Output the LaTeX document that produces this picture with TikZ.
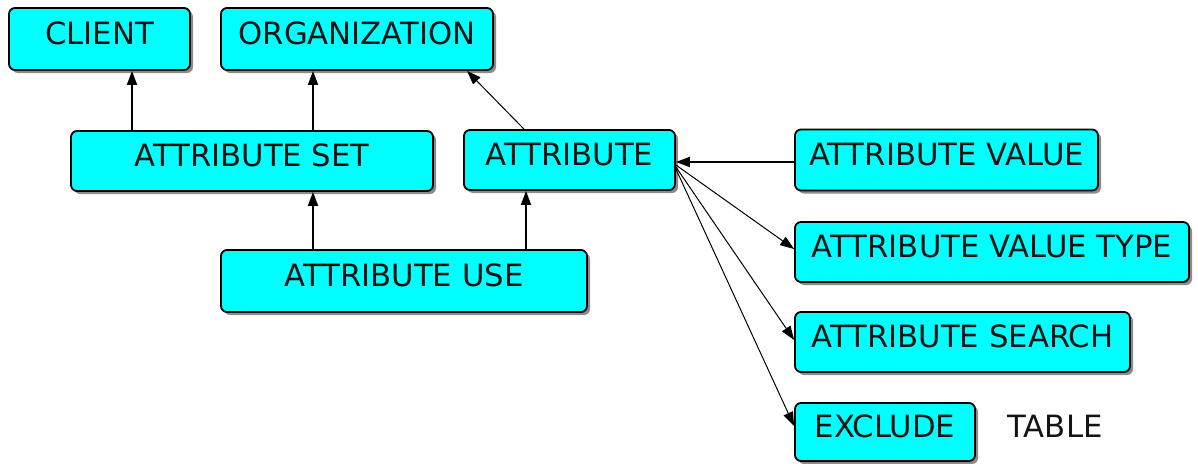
\documentclass[tikz,border=0pt]{standalone}
\usepackage{fontspec}
\setmainfont{DejaVu Sans}
\usetikzlibrary{arrows.meta,shadows}
\definecolor{boxcyan}{RGB}{0,255,255}
\definecolor{inkdark}{RGB}{20,20,20}
\begin{document}
\begin{tikzpicture}[x=1pt,y=-1pt,
  tbox/.style={draw=black,line width=1.8pt,fill=boxcyan,rounded corners=6pt,
    drop shadow={shadow xshift=3pt,shadow yshift=-3pt,opacity=1,fill=black!45},
    font=\fontsize{30.7}{31}\selectfont,text=inkdark,inner xsep=0pt,inner ysep=0pt,
    text height=22.5pt,text depth=11pt,align=center},
  tlabel/.style={font=\fontsize{30.7}{31}\selectfont,text=inkdark,inner sep=0pt,
    text height=22.5pt,text depth=11pt},
  arr/.style={line width=1.8pt,-{Triangle[length=14pt,width=10pt]}},
  thin arr/.style={line width=1pt,-{Triangle[length=14pt,width=10pt]}}]
\useasboundingbox (0,0) rectangle (1198,463);

% entity boxes
\node[tbox,minimum width=181pt,minimum height=62pt] (client) at (99.5,39) {CLIENT};
\node[tbox,minimum width=272pt,minimum height=62pt] (org) at (357,39) {ORGANIZATION};
\node[tbox,minimum width=362pt,minimum height=60pt] (aset) at (252,161) {ATTRIBUTE SET};
\node[tbox,minimum width=211pt,minimum height=60pt] (attr) at (569.5,160) {ATTRIBUTE};
\node[tbox,minimum width=366pt,minimum height=62pt] (ause) at (404,281) {ATTRIBUTE USE};
\node[tbox,minimum width=303pt,minimum height=61pt] (aval) at (946.5,160) {ATTRIBUTE VALUE};
\node[tbox,minimum width=394pt,minimum height=60pt] (avt) at (992,252) {ATTRIBUTE VALUE TYPE};
\node[tbox,minimum width=335pt,minimum height=60pt] (asrch) at (962.5,342) {ATTRIBUTE SEARCH};
\node[tbox,minimum width=180pt,minimum height=58pt] (excl) at (885,432) {EXCLUDE};
\node[tlabel] (tbl) at (1055,432) {TABLE};

% references
\draw[arr] (aset.north -| 132,0) -- (client.south -| 132,0);
\draw[arr] (aset.north -| 313,0) -- (org.south -| 313,0);
\draw[thin arr] (attr.north -| 524,0) -- (org.south -| 467,0);
\draw[arr] (ause.north -| 313,0) -- (aset.south -| 313,0);
\draw[arr] (ause.north -| 526,0) -- (attr.south -| 526,0);
\draw[arr] (aval.west |- 0,162) -- (attr.east |- 0,162);
\draw[thin arr] (attr.east |- 0,165) -- (avt.west |- 0,249);
\draw[thin arr] (attr.east |- 0,167) -- (asrch.west |- 0,340);
\draw[thin arr] (attr.east |- 0,169) -- (excl.west |- 0,426);
\end{tikzpicture}
\end{document}
